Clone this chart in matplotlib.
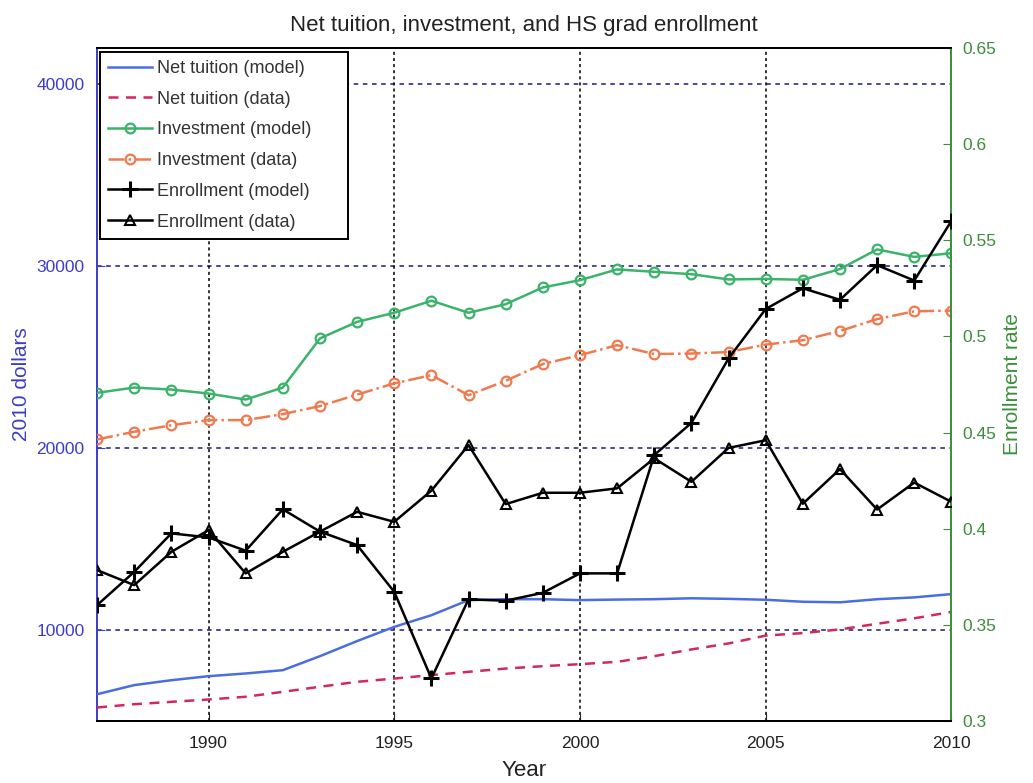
import matplotlib
matplotlib.use("Agg")
import matplotlib.pyplot as plt

plt.rcParams['font.family'] = ['Liberation Sans', 'DejaVu Sans']

# data
years = list(range(1987, 2011))
net_tuition_model = [6480, 6980, 7250, 7470, 7620, 7800, 8570, 9400, 10180, 10820, 11650, 11700,
                     11700, 11650, 11680, 11700, 11750, 11720, 11670, 11560, 11530, 11700, 11800, 11980]
net_tuition_data = [5750, 5930, 6060, 6190, 6340, 6610, 6890, 7160, 7340, 7530, 7710, 7890,
                    8020, 8130, 8260, 8570, 8940, 9270, 9700, 9840, 10040, 10350, 10650, 11000]
investment_model = [23040, 23330, 23220, 23000, 22670, 23330, 26030, 26940, 27440, 28100, 27440, 27910,
                    28830, 29230, 29820, 29690, 29560, 29270, 29300, 29250, 29840, 30920, 30510, 30710]
investment_data = [20480, 20900, 21260, 21540, 21540, 21870, 22310, 22940, 23560, 24010, 22910, 23700,
                   24620, 25110, 25660, 25170, 25200, 25280, 25690, 25930, 26440, 27090, 27520, 27560]
enroll_model = [0.3603, 0.3776, 0.3976, 0.3955, 0.3886, 0.4101, 0.3985, 0.3915, 0.3672, 0.3222, 0.3633, 0.3626,
                0.3667, 0.3768, 0.3768, 0.4383, 0.4550, 0.4885, 0.5142, 0.5250, 0.5190, 0.5370, 0.5290, 0.5600]
enroll_data = [0.3785, 0.3707, 0.3880, 0.3993, 0.3768, 0.3880, 0.3985, 0.4088, 0.4036, 0.4198, 0.4435, 0.4128,
               0.4187, 0.4187, 0.4210, 0.4366, 0.4244, 0.4420, 0.4460, 0.4130, 0.4310, 0.4100, 0.4240, 0.4140]

x_ticks = [1990, 1995, 2000, 2005, 2010]
left_ticks = [10000, 20000, 30000, 40000]
right_ticks = [0.3, 0.35, 0.4, 0.45, 0.5, 0.55, 0.6, 0.65]
legend_labels = ['Net tuition (model)', 'Net tuition (data)', 'Investment (model)',
                 'Investment (data)', 'Enrollment (model)', 'Enrollment (data)']

left_color = '#3c3ccc'
right_color = '#3a8f3a'
tick_fontsize = 12.5
label_fontsize = 15
lw = 1.8


def draw():
    fig = plt.figure(figsize=(10.33, 7.83), dpi=100)
    ax = fig.add_axes([0.094, 0.079, 0.827, 0.860])
    ax2 = ax.twinx()

    # grid: horizontal navy dashes on left ticks, vertical black dots on years
    for v in left_ticks:
        ax.axhline(v, color='#1a1a80', linestyle=(0, (3, 3)), linewidth=1.1, zorder=1)
    for v in x_ticks:
        ax.axvline(v, color='black', linestyle=(0, (2, 2)), linewidth=1.1, zorder=1)

    h1, = ax.plot(years, net_tuition_model, color='#4a6ee0', linewidth=lw, zorder=3)
    h2, = ax.plot(years, net_tuition_data, color='#d02a5a', linestyle=(0, (4, 3)), linewidth=lw, zorder=3)
    h3, = ax.plot(years, investment_model, color='#3cb36a', linewidth=lw, marker='o', markersize=7,
                  markerfacecolor='none', markeredgewidth=1.6, zorder=3)
    h4, = ax.plot(years, investment_data, color='#f07a50', linestyle='-.', linewidth=lw, marker='o',
                  markersize=7, markerfacecolor='none', markeredgewidth=1.6, zorder=3)
    h5, = ax2.plot(years, enroll_model, color='black', linewidth=lw, marker='+', markersize=11,
                   markeredgewidth=2.2, zorder=3)
    h6, = ax2.plot(years, enroll_data, color='black', linewidth=lw, marker='^', markersize=7.5,
                   markerfacecolor='none', markeredgewidth=1.5, zorder=3)

    ax.set_xlim(1987, 2010)
    ax.set_ylim(5000, 42000)
    ax2.set_ylim(0.3, 0.65)
    ax.set_xticks(x_ticks)
    ax.set_yticks(left_ticks)
    ax2.set_yticks(right_ticks)
    ax2.set_yticklabels([('%g' % t) for t in right_ticks])

    ax.tick_params(axis='x', direction='in', length=6, labelsize=tick_fontsize, colors='#222222', pad=11)
    ax.tick_params(axis='y', direction='in', length=6, labelsize=tick_fontsize, colors=left_color, pad=9)
    ax2.tick_params(axis='y', direction='in', length=6, labelsize=tick_fontsize, colors=right_color, pad=8)

    ax.spines['left'].set_color(left_color)
    ax2.spines['left'].set_visible(False)
    ax2.spines['right'].set_color(right_color)
    for a in (ax, ax2):
        a.spines['right'].set_linewidth(1.4)
        a.spines['left'].set_linewidth(1.4)
        a.spines['top'].set_linewidth(1.4)
        a.spines['bottom'].set_linewidth(1.4)
    ax.spines['right'].set_visible(False)

    ax.set_ylabel('2010 dollars', color=left_color, fontsize=label_fontsize, labelpad=4)
    ax2.set_ylabel('Enrollment rate', color=right_color, fontsize=label_fontsize, labelpad=5)
    ax.set_xlabel('Year', fontsize=16, color='#222222', labelpad=6)
    ax.set_title('Net tuition, investment, and HS grad enrollment', fontsize=16,
                 color='#222222', pad=12)

    leg = ax2.legend([h1, h2, h3, h4, h5, h6], legend_labels, loc='upper left', fontsize=13,
                     bbox_to_anchor=(0.0035, 0.994, 0.29, 0.0), mode='expand',
                     fancybox=False, framealpha=1, edgecolor='black', handlelength=2.4,
                     handletextpad=0.3, labelspacing=0.76, borderaxespad=0.0, borderpad=0.45)
    leg.get_frame().set_linewidth(1.4)
    for t in leg.get_texts():
        t.set_color('#333333')

    plt.savefig("out.png", dpi=100)


if __name__ == "__main__":
    draw()
